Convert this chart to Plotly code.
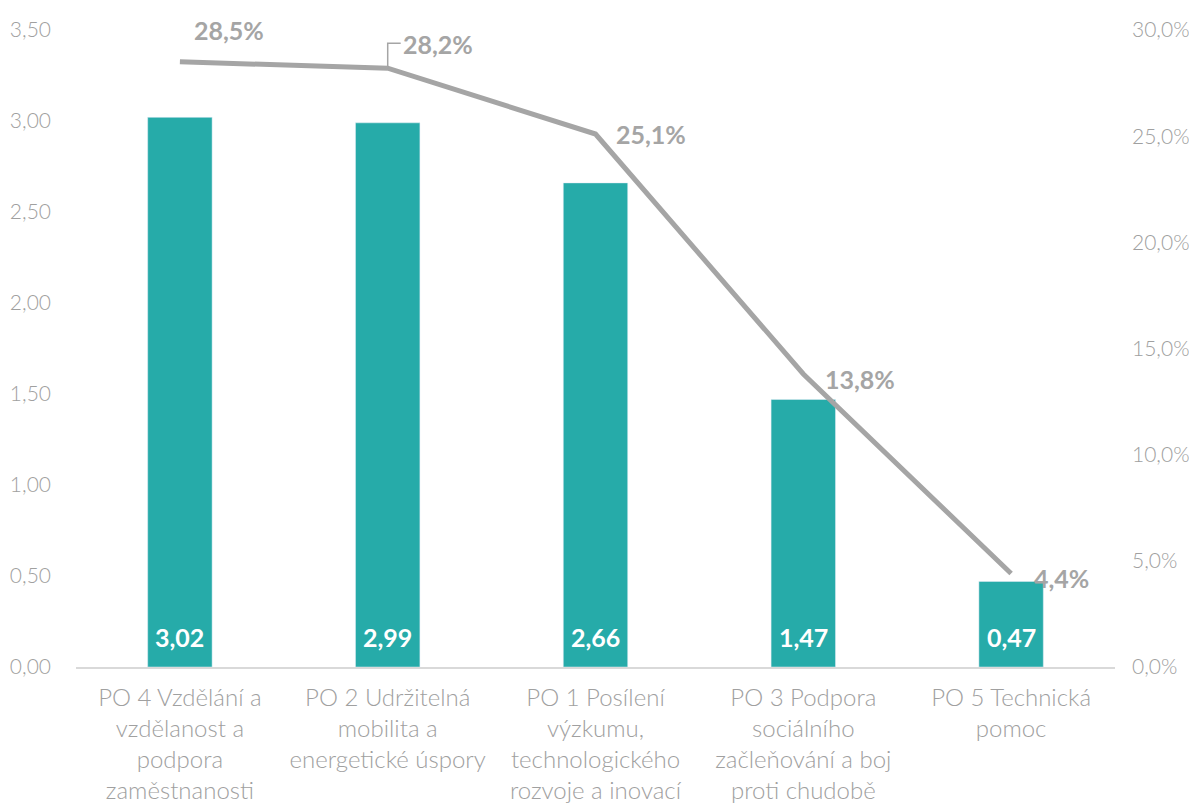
import plotly.graph_objects as go

categories = [
    "PO 4 Vzdělání a<br>vzdělanost a<br>podpora<br>zaměstnanosti",
    "PO 2 Udržitelná<br>mobilita a<br>energetické úspory",
    "PO 1 Posílení<br>výzkumu,<br>technologického<br>rozvoje a inovací",
    "PO 3 Podpora<br>sociálního<br>začleňování a boj<br>proti chudobě",
    "PO 5 Technická<br>pomoc",
]
bar_values = [3.02, 2.99, 2.66, 1.47, 0.47]
line_values = [28.5, 28.2, 25.1, 13.8, 4.4]
bar_labels = ["3,02", "2,99", "2,66", "1,47", "0,47"]
line_labels = ["28,5%", "28,2%", "25,1%", "13,8%", "4,4%"]
left_ticks = [0, 0.5, 1, 1.5, 2, 2.5, 3, 3.5]
left_ticktext = ["0,00", "0,50", "1,00", "1,50", "2,00", "2,50", "3,00", "3,50"]
right_ticks = [0, 5, 10, 15, 20, 25, 30]
right_ticktext = ["0,0%", "5,0%", "10,0%", "15,0%", "20,0%", "25,0%", "30,0%"]

TEAL = "#26ABA9"
GRAY = "#A5A5A5"
TICK = "#A0A0A0"
FONT = "Lato"

fig = go.Figure()
fig.add_trace(go.Bar(
    x=categories, y=bar_values, width=0.31, marker_color=TEAL,
    hoverinfo="skip",
))
fig.add_trace(go.Scatter(
    x=categories, y=line_values, yaxis="y2", mode="lines",
    line=dict(color=GRAY, width=5), hoverinfo="skip",
))

for i, lbl in enumerate(bar_labels):
    fig.add_annotation(
        x=i, y=0, xref="x", yref="y", text=lbl, showarrow=False,
        yanchor="middle", yshift=30,
        font=dict(color="white", size=25, family=FONT, weight="bold"),
    )

# label offsets (pixels) for line labels
offsets = [(49, 32), (50, 24), (55, 0), (57, -5), (50, -4)]
for i, (lbl, (dx, dy)) in enumerate(zip(line_labels, offsets)):
    fig.add_annotation(
        x=i, y=line_values[i], xref="x", yref="y2", text=lbl, showarrow=False,
        xshift=dx, yshift=dy,
        font=dict(color=GRAY, size=25, family=FONT, weight="bold"),
    )

# leader line for 28,2%
fig.add_shape(
    type="path", xref="x", yref="y2", xsizemode="pixel", ysizemode="pixel",
    xanchor=1, yanchor=line_values[1],
    path="M0,0 L0,25 L13,25", line=dict(color=GRAY, width=1.5),
)

fig.update_layout(
    width=1197, height=810,
    margin=dict(l=68, r=90, t=22, b=151),
    plot_bgcolor="white", paper_bgcolor="white",
    showlegend=False,
    font=dict(family=FONT, color=TICK),
    xaxis=dict(
        showgrid=False, showline=True, linecolor="#D9D9D9", linewidth=2,
        ticks="", tickfont=dict(size=24, color=TICK, family=FONT, weight=300),
        tickangle=0, ticklabelstandoff=8, automargin=False,
    ),
    yaxis=dict(
        range=[0, 3.5], tickvals=left_ticks, ticktext=left_ticktext,
        showgrid=False, zeroline=False, showline=False,
        tickfont=dict(size=21, color=TICK, family=FONT, weight=300),
        ticklabelstandoff=24, automargin=False,
    ),
    yaxis2=dict(
        range=[0, 30], tickvals=right_ticks, ticktext=right_ticktext,
        overlaying="y", side="right", showgrid=False, zeroline=False,
        showline=False, tickfont=dict(size=21, color=TICK, family=FONT, weight=300),
        ticklabelstandoff=16, automargin=False,
    ),
)

fig.write_html("out.html")
